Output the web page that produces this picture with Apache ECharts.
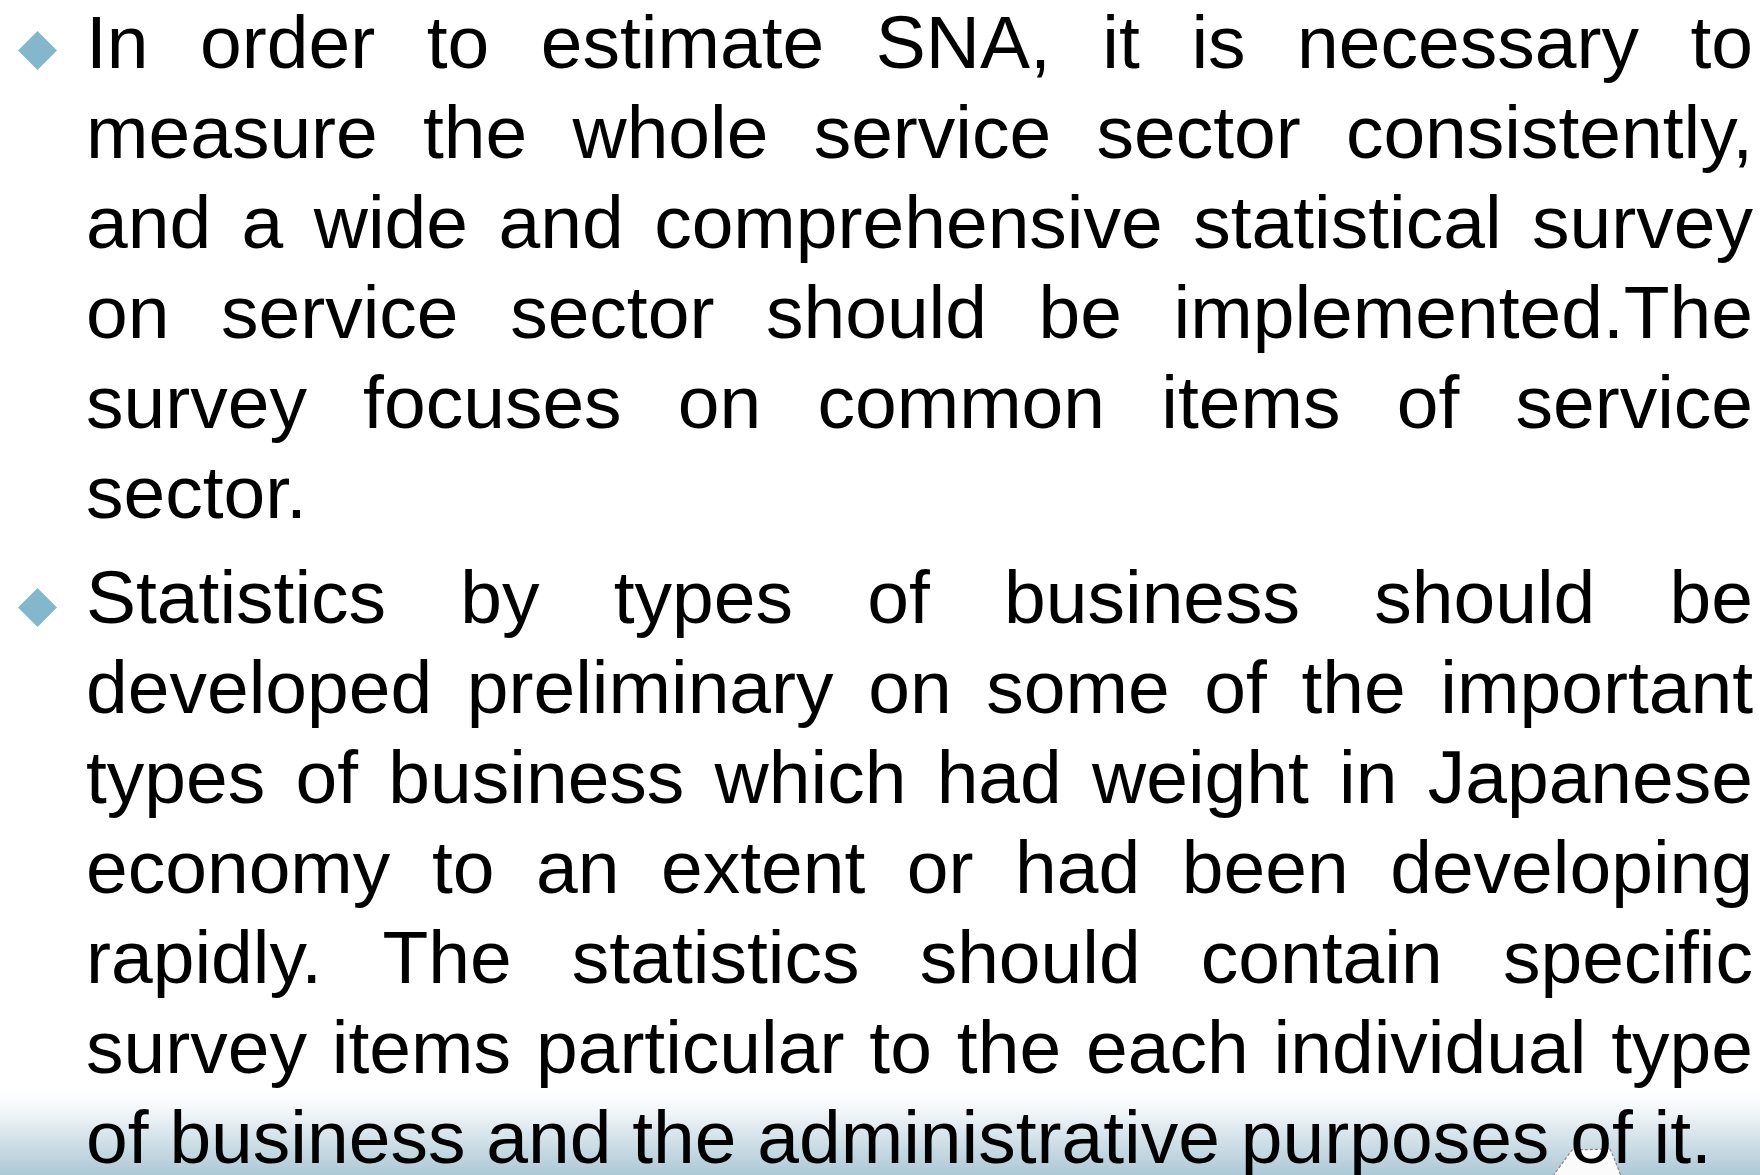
<!DOCTYPE html>
<html>
<head>
<meta charset="utf-8">
<script src="https://cdn.jsdelivr.net/npm/echarts@6/dist/echarts.min.js"></script>
<style>
  html, body { margin: 0; padding: 0; background: #ffffff; }
  #chart { width: 1760px; height: 1175px; }
</style>
</head>
<body>
<div id="chart"></div>
<script>
// ---- Text content (line breaks as in the reference) ----
const paragraph1Lines = [
  "In order to estimate SNA, it is necessary to",
  "measure the whole service sector consistently,",
  "and a wide and comprehensive statistical survey",
  "on service sector should be implemented.The",
  "survey focuses on common items of service",
  "sector."
];
const paragraph2Lines = [
  "Statistics by types of business should be",
  "developed preliminary on some of the important",
  "types of business which had weight in Japanese",
  "economy to an extent or had been developing",
  "rapidly. The statistics should contain specific",
  "survey items particular to the each individual type",
  "of business and the administrative purposes of it."
];
const paragraphs = [paragraph1Lines, paragraph2Lines];

// ---- Layout ----
const W = 1760, H = 1175;
const FONT_SIZE = 75;
const FONT = FONT_SIZE + 'px "Liberation Sans", Arial, sans-serif';
const LEFT = 86, RIGHT = 1753;
const LINE_GAP = 90;
const FIRST_BASELINES = [69, 624];
const MIDDLE_SHIFT = 0.29 * FONT_SIZE; // baseline -> middle of text box
const BULLET_X = 37.5, BULLET_R = 19.5;
const BULLET_Y = [50.5, 607.5];

const measureCtx = document.createElement('canvas').getContext('2d');
measureCtx.font = FONT;
const mw = s => measureCtx.measureText(s).width;

const elements = [];

// background
elements.push({ type: 'rect', shape: { x: 0, y: 0, width: W, height: H }, style: { fill: '#ffffff' }, z: 0 });
// bottom gradient band
elements.push({
  type: 'rect', shape: { x: 0, y: 1082, width: W, height: H - 1082 }, z: 1,
  style: { fill: { type: 'linear', x: 0, y: 0, x2: 0, y2: 1, colorStops: [
    { offset: 0, color: 'rgba(255,255,255,0)' },
    { offset: 0.45, color: '#e3ecf1' },
    { offset: 1, color: '#adc8d6' } ] } }
});
// small white decoration at bottom right
elements.push({
  type: 'polygon', z: 2,
  shape: { points: [[1553, 1176], [1566, 1158], [1572, 1150], [1610, 1149], [1614, 1158], [1621, 1176]] },
  style: { fill: '#fbfbfb', stroke: '#8a8080', lineWidth: 1.2, lineDash: [3, 2] }
});

paragraphs.forEach((lines, pi) => {
  const base0 = FIRST_BASELINES[pi];
  const by = BULLET_Y[pi];
  elements.push({
    type: 'polygon', z: 3,
    shape: { points: [[BULLET_X, by - BULLET_R], [BULLET_X + BULLET_R, by], [BULLET_X, by + BULLET_R], [BULLET_X - BULLET_R, by]] },
    style: { fill: '#84b7cc' }
  });
  lines.forEach((line, li) => {
    const baseline = base0 + li * LINE_GAP;
    const yMid = baseline - MIDDLE_SHIFT;
    const isLast = li === lines.length - 1;
    if (isLast) {
      elements.push({ type: 'text', z: 5, x: LEFT, y: yMid,
        style: { text: line, font: FONT, fill: '#000000', textAlign: 'left', textVerticalAlign: 'middle', align: 'left', verticalAlign: 'middle' } });
      return;
    }
    const words = line.split(' ');
    const widths = words.map(mw);
    const total = widths.reduce((a, b) => a + b, 0);
    const gap = words.length > 1 ? (RIGHT - LEFT - total) / (words.length - 1) : 0;
    let x = LEFT;
    words.forEach((w, wi) => {
      elements.push({ type: 'text', z: 5, x: x, y: yMid,
        style: { text: w, font: FONT, fill: '#000000', textAlign: 'left', textVerticalAlign: 'middle', align: 'left', verticalAlign: 'middle' } });
      x += widths[wi] + gap;
    });
  });
});

const chart = echarts.init(document.getElementById('chart'), null, { renderer: 'canvas', width: W, height: H });
chart.setOption({
  backgroundColor: '#ffffff',
  animation: false,
  graphic: { elements: elements }
});
</script>
</body>
</html>
